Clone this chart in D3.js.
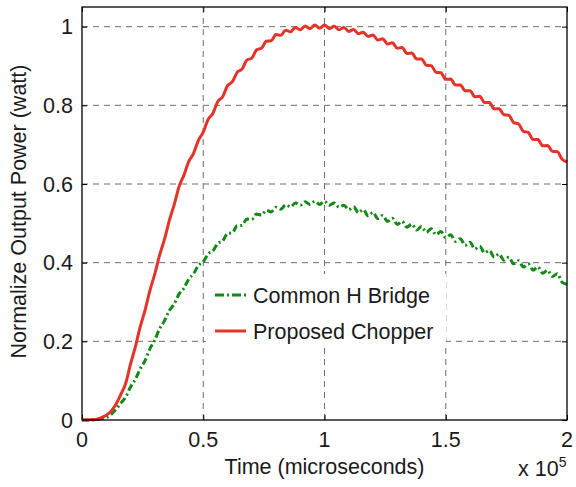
<!DOCTYPE html>
<html>
<head>
<meta charset="utf-8">
<script src="https://cdn.jsdelivr.net/npm/d3@7"></script>
<style>
  html, body { margin: 0; padding: 0; background: #fff; }
  svg text { font-family: "Liberation Sans", Arial, Helvetica, sans-serif; fill: #1a1a1a; }
</style>
</head>
<body>
<svg id="chart" width="576" height="487"></svg>
<script>
// Time samples in units of 1e5 microseconds (step 0.02)
const timeStart = 0, timeStep = 0.02;

// Normalized output power of the proposed chopper
const proposedChopper = [
  0, 0, 0.001, 0.002, 0.006, 0.012, 0.022, 0.040, 0.065, 0.093,
  0.142, 0.186, 0.237, 0.279, 0.329, 0.371, 0.419, 0.459, 0.507, 0.547,
  0.593, 0.622, 0.657, 0.678, 0.711, 0.732, 0.764, 0.780, 0.810, 0.822,
  0.850, 0.860, 0.884, 0.892, 0.915, 0.920, 0.941, 0.945, 0.963, 0.964,
  0.980, 0.978, 0.991, 0.987, 0.998, 0.992, 1.002, 0.995, 1.004, 0.996,
  1.004, 0.995, 1.001, 0.992, 0.998, 0.988, 0.993, 0.982, 0.986, 0.975,
  0.979, 0.966, 0.969, 0.956, 0.959, 0.945, 0.947, 0.932, 0.933, 0.918,
  0.918, 0.902, 0.901, 0.884, 0.883, 0.866, 0.867, 0.852, 0.852, 0.837,
  0.837, 0.822, 0.823, 0.807, 0.807, 0.791, 0.791, 0.776, 0.775, 0.756,
  0.753, 0.734, 0.731, 0.713, 0.713, 0.697, 0.698, 0.683, 0.682, 0.663,
  0.656
];

// Normalized output power of the common H bridge
const commonHBridge = [
  0, 0, 0, 0.001, 0.003, 0.006, 0.014, 0.027, 0.043, 0.058,
  0.084, 0.103, 0.130, 0.151, 0.181, 0.203, 0.232, 0.252, 0.278, 0.295,
  0.320, 0.335, 0.358, 0.372, 0.393, 0.402, 0.422, 0.430, 0.449, 0.455,
  0.474, 0.476, 0.494, 0.495, 0.511, 0.510, 0.524, 0.521, 0.533, 0.529,
  0.541, 0.536, 0.547, 0.542, 0.552, 0.546, 0.555, 0.548, 0.556, 0.548,
  0.556, 0.546, 0.552, 0.541, 0.546, 0.535, 0.542, 0.527, 0.535, 0.519,
  0.528, 0.512, 0.520, 0.505, 0.513, 0.497, 0.505, 0.490, 0.498, 0.483,
  0.492, 0.477, 0.486, 0.471, 0.479, 0.464, 0.471, 0.454, 0.461, 0.444,
  0.452, 0.435, 0.442, 0.425, 0.431, 0.414, 0.422, 0.406, 0.414, 0.397,
  0.405, 0.389, 0.397, 0.381, 0.389, 0.373, 0.381, 0.365, 0.372, 0.350,
  0.345
];

const xTicks = [0, 0.5, 1, 1.5, 2];
const xTickLabels = ["0", "0.5", "1", "1.5", "2"];
const yTicks = [0, 0.2, 0.4, 0.6, 0.8, 1];
const yTickLabels = ["0", "0.2", "0.4", "0.6", "0.8", "1"];

const seriesNames = ["Common H Bridge", "Proposed Chopper"];
const seriesColors = ["#138a17", "#e5332a"];

const svg = d3.select("#chart");
const plot = { left: 82, right: 567, top: 7, bottom: 420 };

const x = d3.scaleLinear().domain([0, 2]).range([plot.left, plot.right]);
const y = d3.scaleLinear().domain([0, 1.05]).range([plot.bottom, plot.top]);

// grid
const grid = svg.append("g").attr("stroke", "#6e6e6e").attr("stroke-width", 1)
  .attr("stroke-dasharray", "6,5").attr("fill", "none");
xTicks.slice(1, -1).forEach(t => {
  grid.append("line").attr("x1", x(t)).attr("x2", x(t))
    .attr("y1", plot.top).attr("y2", plot.bottom);
});
yTicks.slice(1).forEach(t => {
  grid.append("line").attr("x1", plot.left).attr("x2", plot.right)
    .attr("y1", y(t)).attr("y2", y(t));
});

// axes with inward ticks, labels placed separately
const tickLen = 5;
const xAxisB = d3.axisBottom(x).tickValues(xTicks).tickSize(-tickLen).tickFormat("");
const xAxisT = d3.axisTop(x).tickValues(xTicks).tickSize(-tickLen).tickFormat("");
const yAxisL = d3.axisLeft(y).tickValues(yTicks).tickSize(-tickLen).tickFormat("");
const yAxisR = d3.axisRight(y).tickValues(yTicks).tickSize(-tickLen).tickFormat("");
[[xAxisB, `translate(0,${plot.bottom})`], [xAxisT, `translate(0,${plot.top})`],
 [yAxisL, `translate(${plot.left},0)`], [yAxisR, `translate(${plot.right},0)`]]
  .forEach(([ax, tr]) => {
    const g = svg.append("g").attr("transform", tr).call(ax);
    g.select(".domain").remove();
    g.selectAll("line").attr("stroke", "#000").attr("stroke-width", 1);
  });

// series
const xs = proposedChopper.map((_, i) => timeStart + i * timeStep);
const line = d3.line().x(d => x(d[0])).y(d => y(d[1])).curve(d3.curveMonotoneX);

svg.append("path")
  .datum(commonHBridge.map((v, i) => [xs[i], v]))
  .attr("d", line).attr("fill", "none")
  .attr("stroke", seriesColors[0]).attr("stroke-width", 3)
  .attr("stroke-dasharray", "7,3,2,3");

svg.append("path")
  .datum(proposedChopper.map((v, i) => [xs[i], v]))
  .attr("d", line).attr("fill", "none")
  .attr("stroke", seriesColors[1]).attr("stroke-width", 3)
  .attr("stroke-linejoin", "round");

// box
svg.append("rect").attr("x", plot.left).attr("y", plot.top)
  .attr("width", plot.right - plot.left).attr("height", plot.bottom - plot.top)
  .attr("fill", "none").attr("stroke", "#000").attr("stroke-width", 1.3);

// tick labels
const fs = 21.5;
svg.append("g").selectAll("text").data(xTicks).join("text")
  .attr("x", d => x(d)).attr("y", 447).attr("text-anchor", "middle")
  .attr("font-size", fs).text((d, i) => xTickLabels[i]);
svg.append("g").selectAll("text").data(yTicks).join("text")
  .attr("x", 73).attr("y", d => y(d) + 7.5).attr("text-anchor", "end")
  .attr("font-size", fs).text((d, i) => yTickLabels[i]);

// axis titles
svg.append("text").attr("x", (plot.left + plot.right) / 2).attr("y", 474)
  .attr("text-anchor", "middle").attr("font-size", fs).text("Time (microseconds)");
svg.append("text").attr("transform", `translate(26,${(plot.top + plot.bottom) / 2 - 2}) rotate(-90)`)
  .attr("text-anchor", "middle").attr("font-size", fs).text("Normalize Output Power (watt)");

// exponent
const expo = svg.append("text").attr("x", 518).attr("y", 476).attr("font-size", fs);
expo.append("tspan").text("x 10");
expo.append("tspan").attr("dy", -9).attr("font-size", 14).text("5");

// legend
const legend = svg.append("g");
legend.append("rect").attr("x", 206).attr("y", 274).attr("width", 240).attr("height", 74)
  .attr("fill", "#fff");
seriesNames.forEach((name, i) => {
  const ly = 295 + i * 36;
  legend.append("line").attr("x1", 215).attr("x2", 246).attr("y1", ly).attr("y2", ly)
    .attr("stroke", seriesColors[i]).attr("stroke-width", 3)
    .attr("stroke-dasharray", i === 0 ? "9,3,2,3" : null);
  legend.append("text").attr("x", 253).attr("y", ly + 8).attr("font-size", fs).text(name);
});
</script>
</body>
</html>
